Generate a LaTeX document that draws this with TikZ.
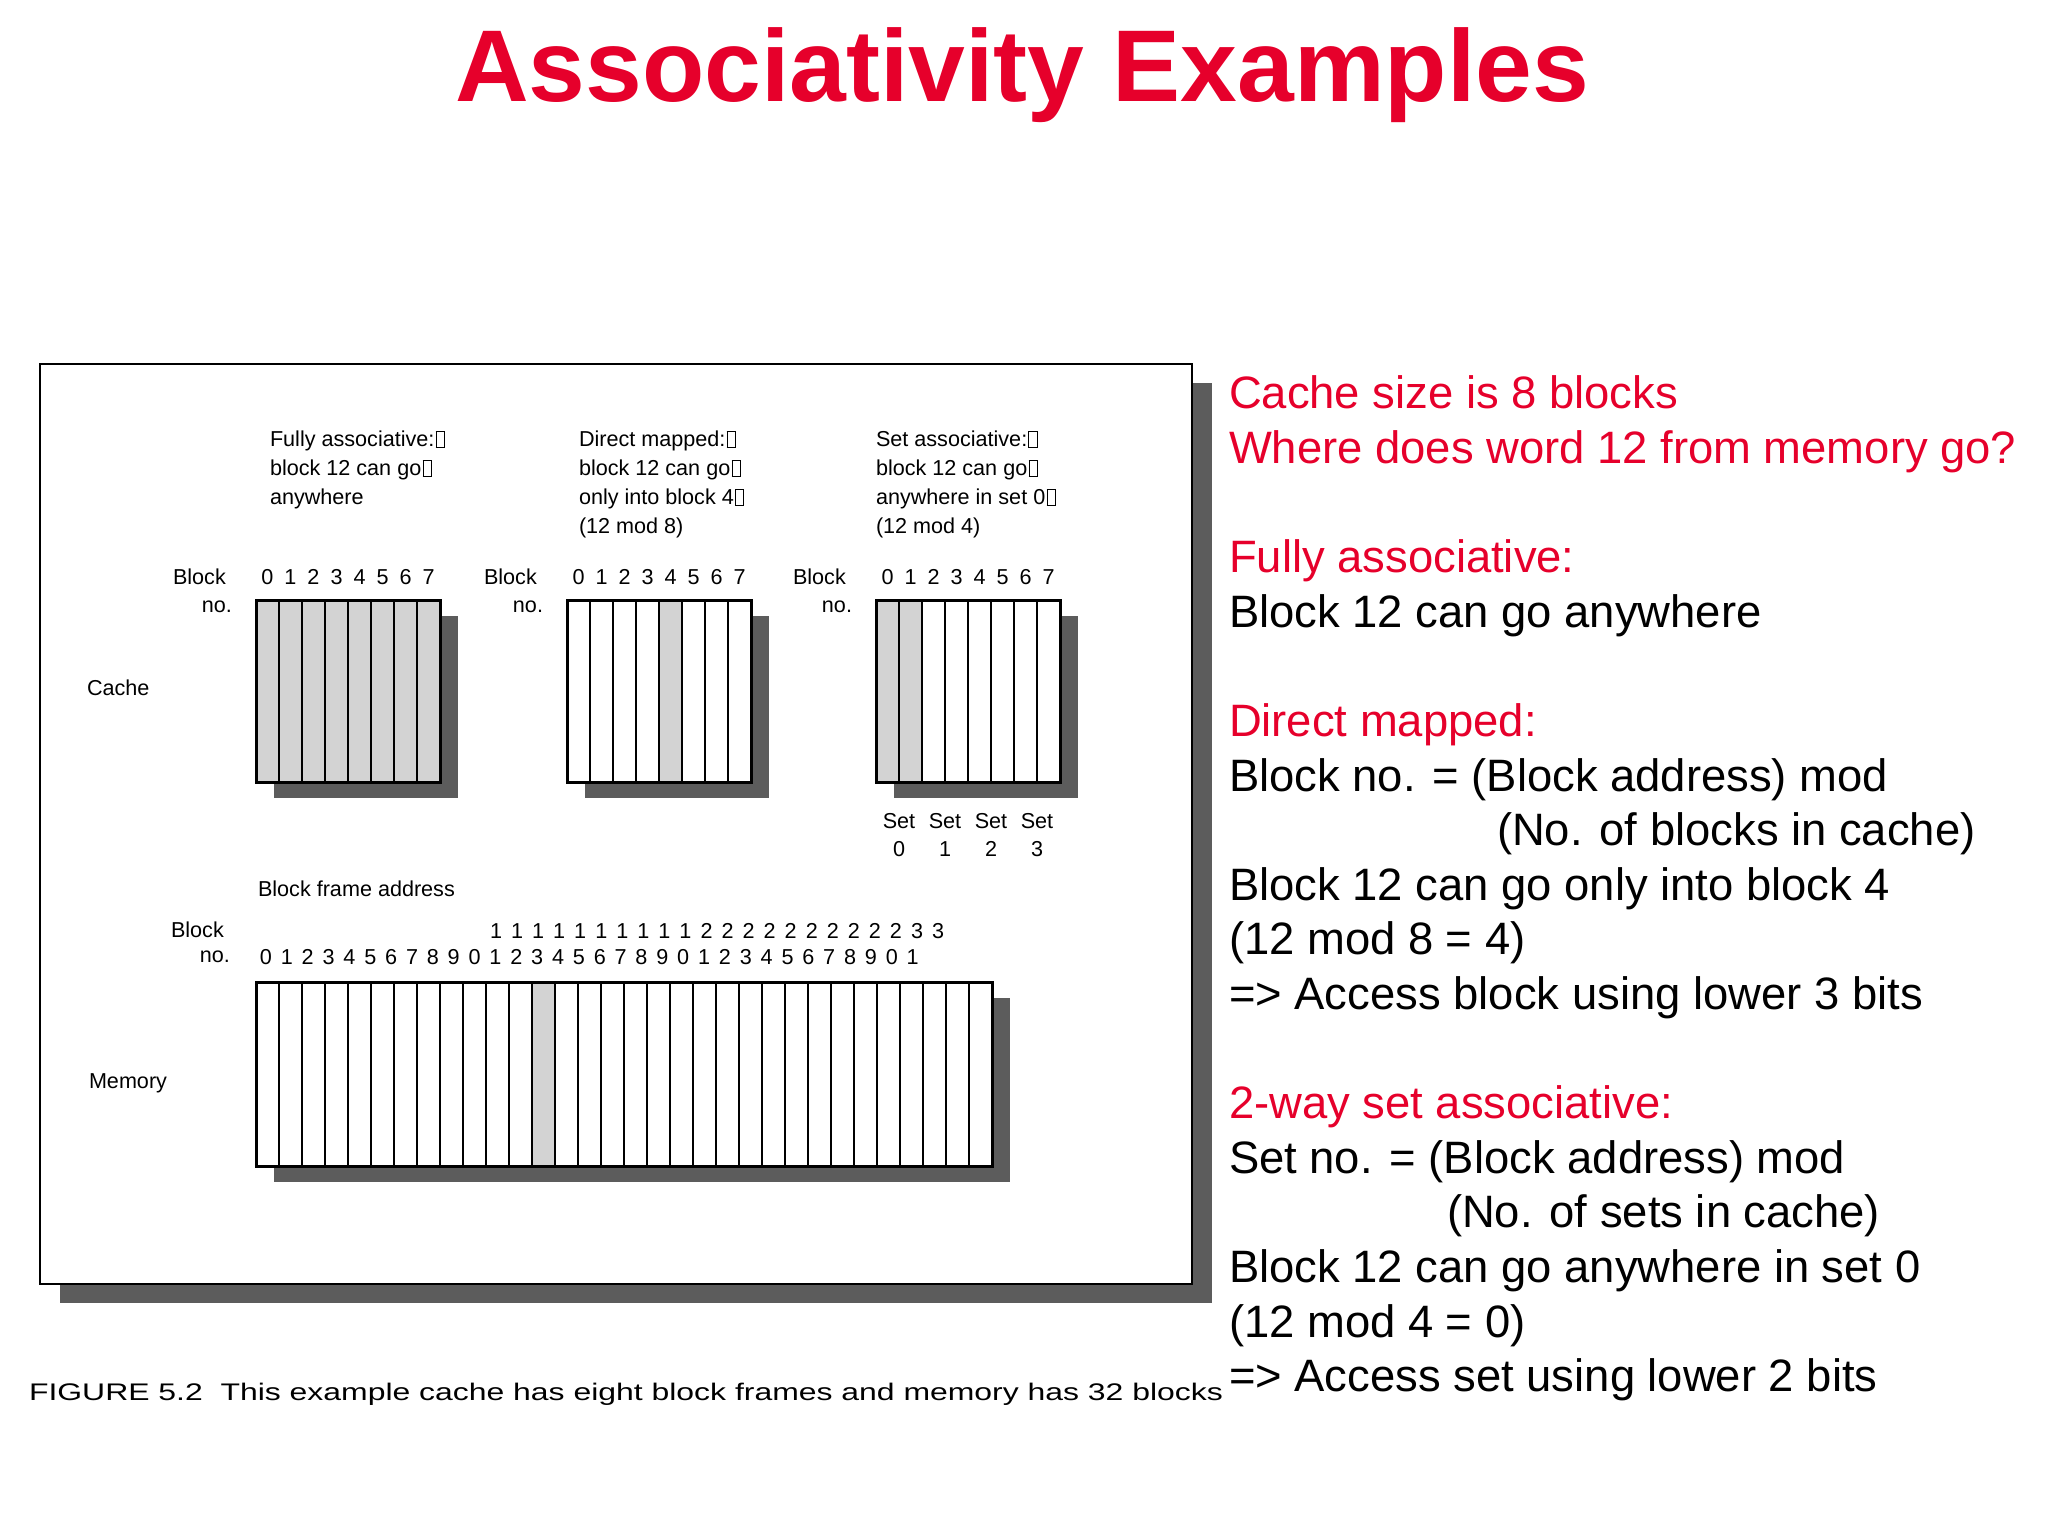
\documentclass[tikz,border=0pt]{standalone}
\usepackage{fontspec}
\setmainfont{Liberation Sans}
\newfontfamily\capfont[FakeStretch=1.33]{Liberation Sans}
\usetikzlibrary{calc,positioning,shadows}
\definecolor{slidered}{HTML}{E6002B}
\definecolor{hitgray}{HTML}{D3D3D3}
\definecolor{shade}{HTML}{5C5C5C}
\newcommand{\crbox}{\kern0.6pt{\setlength{\fboxsep}{0pt}\setlength{\fboxrule}{0.5pt}\fbox{\rule{0pt}{0.66em}\hspace{0.34em}}}}
\tikzset{
  every node/.style={inner sep=0pt,outer sep=0pt},
  title/.style={font=\fontsize{51}{60}\selectfont\bfseries,text=slidered},
  body/.style={font=\fontsize{22.7}{27.3}\selectfont,align=left},
  tiny/.style={font=\fontsize{10.8}{14.5}\selectfont,align=left},
  caption/.style={font=\capfont\fontsize{12}{14}\selectfont},
  figframe/.style={draw,line width=1pt,fill=white,
    drop shadow={shadow xshift=10pt,shadow yshift=-9.5pt,opacity=1,fill=shade}},
  blockbox/.style={draw,line width=1.5pt,fill=white,minimum height=91pt,
    drop shadow={shadow xshift=9pt,shadow yshift=-8pt,opacity=1,fill=shade}},
  hit/.style={fill=hitgray},
  slot/.style={line width=0.8pt},
  rim/.style={line width=1.5pt},
}
\begin{document}
\begin{tikzpicture}[x=0.5pt,y=-0.5pt]
\useasboundingbox (0,0) rectangle (2048,1536);

\node[title,anchor=base] (title) at (1022,102) {Associativity Examples};

\node[figframe,minimum width=576pt,minimum height=460pt] (fig) at (616,824) {};

\node[tiny,anchor=north west] (fadesc) at (270,431) {Fully associative:\crbox\\block 12 can go\crbox\\anywhere};
\node[tiny,anchor=north west] (dmdesc) at (579,431) {Direct mapped:\crbox\\block 12 can go\crbox\\only into block 4\crbox\\(12 mod 8)};
\node[tiny,anchor=north west] (sadesc) at (876,431) {Set associative:\crbox\\block 12 can go\crbox\\anywhere in set 0\crbox\\(12 mod 4)};

\foreach \b/\x/\hits in {fa/348/{0,...,7},dm/659/{4},sa/968/{0,1}} {
  \node[blockbox,minimum width=92pt] (\b) at (\x,691) {};
  \foreach \c in \hits \fill[hit] ($(\b.north west)+(\c*23,0)$) rectangle ++(23,182);
  \foreach \c in {1,...,7} \draw[slot] ($(\b.north west)+(\c*23,0)$) -- ++(0,182);
  \draw[rim] (\b.north west) rectangle (\b.south east);
  \foreach \c in {0,...,7} \node[tiny] (\b n\c) at ($(\b.north west)+(\c*23+11.5,-23)$) {\c};
  \node[tiny,anchor=west] (\b blk) at ($(\b.north west)+(-83,-23)$) {Block};
  \node[tiny,anchor=east] (\b no) at ($(\b.north west)+(-24,7)$) {no.};
}

\node[tiny,anchor=west] (cache) at (87,688) {Cache};
\foreach \k in {0,...,3} {
  \node[tiny] (set\k) at ($(sa.south west)+(\k*46+23,39)$) {Set};
  \node[tiny] (setno\k) at ($(set\k)+(0,28)$) {\k};
}

\node[tiny,anchor=west] (frameaddr) at (258,889) {Block frame address};

\node[blockbox,minimum width=368pt,minimum height=92pt] (mem) at (624,1074) {};
\fill[hit] ($(mem.north west)+(12*23,0)$) rectangle ++(23,184);
\foreach \c in {1,...,31} \draw[slot] ($(mem.north west)+(\c*23,0)$) -- ++(0,184);
\draw[rim] (mem.north west) rectangle (mem.south east);
\node[tiny,anchor=west] (memblk) at ($(mem.north west)+(-85,-52)$) {Block};
\node[tiny,anchor=east] (memno) at ($(mem.north west)+(-26,-25)$) {no.};
\foreach \i [evaluate=\i as \t using {int(1+floor(\i/10))}] in {0,...,21}
  \node[tiny] (tens\i) at (496+21.05*\i,931) {\t};
\foreach \i [evaluate=\i as \u using {int(mod(\i,10))}] in {0,...,31}
  \node[tiny] (unit\i) at (266+20.86*\i,957) {\u};
\node[tiny,anchor=west] (memory) at (89,1083) {Memory};

\node[caption,anchor=base west] (figcap) at (29,1400) {FIGURE 5.2\ \ This example cache has eight block frames and memory has 32 blocks};

\node[body,anchor=north west] (notes) at (1229,376) {%
\textcolor{slidered}{Cache size is 8 blocks}\\
\textcolor{slidered}{Where does word 12 from memory go?}\\[27.3pt]
\textcolor{slidered}{Fully associative:}\\
Block 12 can go anywhere\\[27.3pt]
\textcolor{slidered}{Direct mapped:}\\
Block no. = (Block address) mod\\
\hspace*{134pt}(No. of blocks in cache)\\
Block 12 can go only into block 4\\
(12 mod 8 = 4)\\
=> Access block using lower 3 bits\\[27.3pt]
\textcolor{slidered}{2-way set associative:}\\
Set no. = (Block address) mod\\
\hspace*{109pt}(No. of sets in cache)\\
Block 12 can go anywhere in set 0\\
(12 mod 4 = 0)\\
=> Access set using lower 2 bits};

\end{tikzpicture}
\end{document}
